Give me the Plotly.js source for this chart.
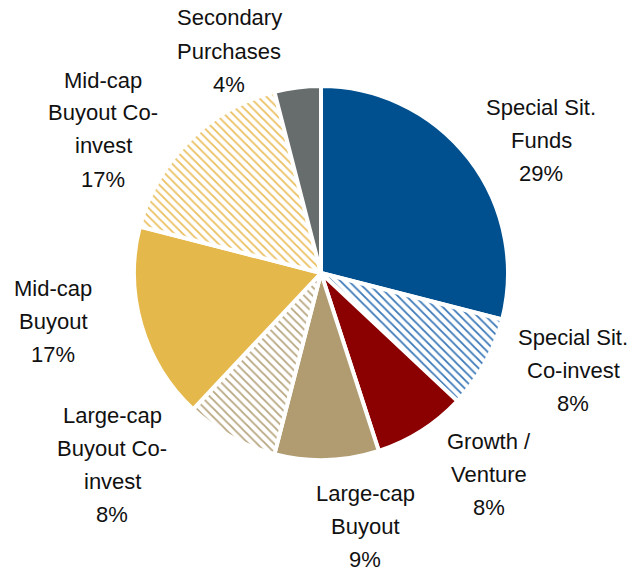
<!DOCTYPE html>
<html>
<head>
<meta charset="utf-8">
<script src="https://cdn.plot.ly/plotly-3.0.1.min.js"></script>
<style>html,body{margin:0;padding:0;background:#fff;}</style>
</head>
<body>
<div id="chart" style="width:637px;height:572px;"></div>
<script>
// ---- data ----
const categories = [
  "Special Sit. Funds",
  "Special Sit. Co-invest",
  "Growth / Venture",
  "Large-cap Buyout",
  "Large-cap Buyout Co-invest",
  "Mid-cap Buyout",
  "Mid-cap Buyout Co-invest",
  "Secondary Purchases"
];
const values = [29, 8, 8, 9, 8, 17, 17, 4];
const labelLines = [
  ["Special Sit.", "Funds"],
  ["Special Sit.", "Co-invest"],
  ["Growth /", "Venture"],
  ["Large-cap", "Buyout"],
  ["Large-cap", "Buyout Co-", "invest"],
  ["Mid-cap", "Buyout"],
  ["Mid-cap", "Buyout Co-", "invest"],
  ["Secondary", "Purchases"]
];

// ---- styles ----
const colors = ["#00508F", "#3A78B8", "#8B0000", "#B09C70", "#B8A680", "#E5B84C", "#EBC060", "#676C6C"];
const hatched = [false, true, false, false, true, false, true, false];
// label anchor (pixel centre x, first-line y) in a 637x572 canvas
const labelPos = [
  [541, 108], [573, 337], [489, 441], [365, 493],
  [112, 415], [53, 288], [103, 80], [229, 18]
];
const W = 637, H = 572, LINE = 33;

const trace = {
  type: "pie",
  labels: categories,
  values: values,
  sort: false,
  direction: "clockwise",
  rotation: 0,
  textinfo: "none",
  hoverinfo: "label+percent",
  domain: {x: [134/W, 508/W], y: [(H-460)/H, (H-86)/H]},
  marker: {
    colors: colors,
    line: {color: "#ffffff", width: 4},
    pattern: {
      shape: hatched.map(h => h ? "\\" : ""),
      fgcolor: colors,
      bgcolor: hatched.map(h => "#ffffff"),
      fillmode: "replace",
      size: 6,
      solidity: 0.3
    }
  },
  showlegend: false
};

const annotations = [];
labelLines.forEach((lines, i) => {
  const all = lines.concat([values[i] + "%"]);
  all.forEach((t, k) => {
    annotations.push({
      xref: "paper", yref: "paper",
      x: labelPos[i][0] / W,
      y: 1 - (labelPos[i][1] + k * LINE) / H,
      xanchor: "center", yanchor: "middle",
      text: t, showarrow: false,
      font: {family: "Liberation Sans, Arial, sans-serif", size: 22, color: "#111111"}
    });
  });
});

const layout = {
  width: W, height: H,
  margin: {l: 0, r: 0, t: 0, b: 0},
  paper_bgcolor: "#ffffff",
  plot_bgcolor: "#ffffff",
  annotations: annotations,
  showlegend: false
};

Plotly.newPlot("chart", [trace], layout, {displayModeBar: false, staticPlot: true});
</script>
</body>
</html>
